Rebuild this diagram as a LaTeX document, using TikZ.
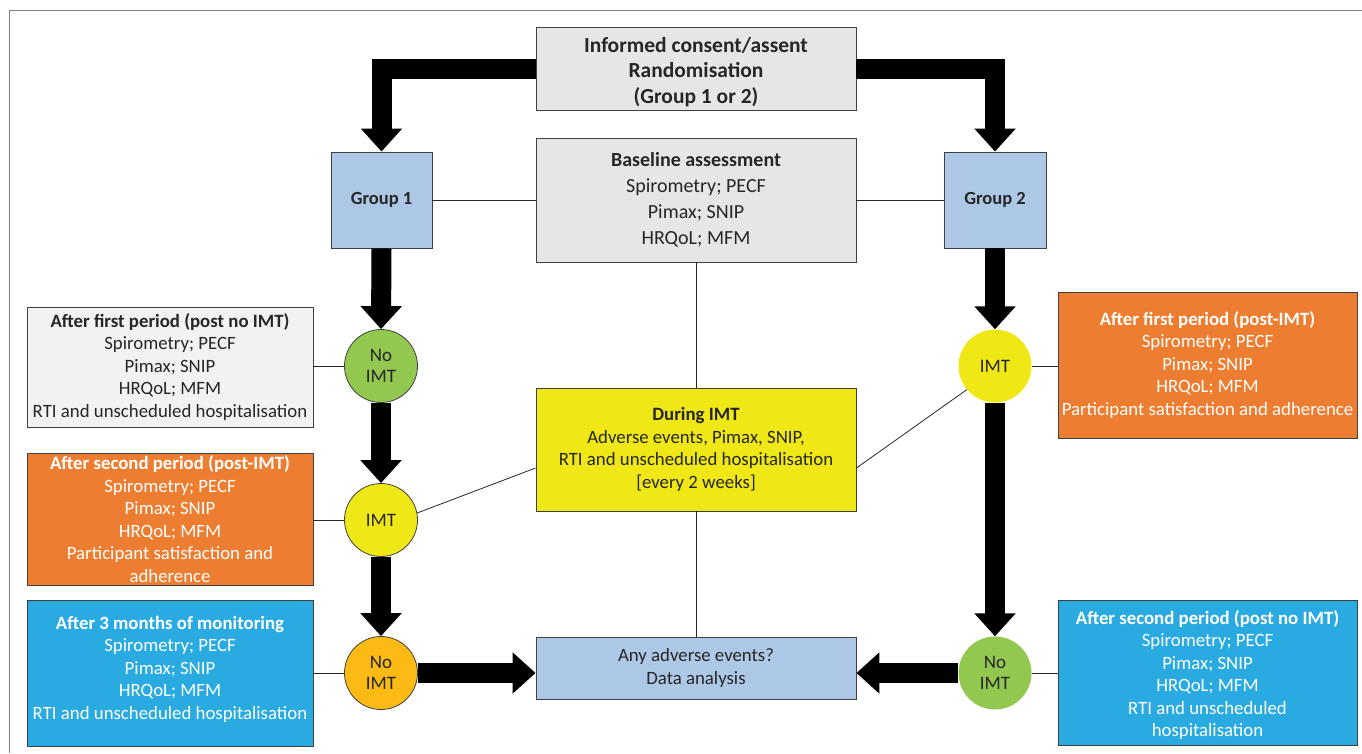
\documentclass[tikz,border=0pt]{standalone}
\usepackage{fontspec}
\setmainfont{Carlito}
\usetikzlibrary{arrows.meta,calc}
\definecolor{boxgray}{HTML}{E6E6E6}
\definecolor{boxwhite}{HTML}{F2F2F2}
\definecolor{borderc}{HTML}{404040}
\definecolor{orangec}{HTML}{ED7D31}
\definecolor{bluec}{HTML}{29ABE2}
\definecolor{lblue}{HTML}{ADC8E6}
\definecolor{yellowc}{HTML}{F0E816}
\definecolor{greenc}{HTML}{92C850}
\definecolor{amberc}{HTML}{FBBA14}
\definecolor{txt}{HTML}{262626}
\tikzset{
  sidefont/.style={font=\fontsize{18.8}{22.5}\selectfont},
  box/.style={draw=borderc, line width=0.9pt, inner sep=0pt, align=center, text=txt, sidefont},
  sidebox/.style={box, minimum width=286pt},
  textonly/.style={inner sep=0pt, align=center, sidefont},
  circ/.style={circle, minimum size=73pt, inner sep=0pt, align=center, text=txt, font=\fontsize{19}{21}\selectfont},
  bigarrow/.style={line width=20pt, line join=miter, -{Triangle[length=23pt,width=40pt]}, black},
  thin/.style={draw=txt, line width=0.8pt},
}
\begin{document}
\begin{tikzpicture}[x=1pt,y=-1pt]
\useasboundingbox (0,0) rectangle (1362,753);
\draw[gray, line width=0.8pt] (9,753) -- (9,10) -- (1362,10);

% central column
\node[box, fill=boxgray, minimum width=320pt, minimum height=83pt] (top) at (696,68.5) {};
\node[textonly, text=txt, font=\bfseries\fontsize{21.5}{25.5}\selectfont] (toptext) at (696,72)
  {Informed consent/assent\\Randomisation\\(Group 1 or 2)};
\node[box, fill=boxgray, minimum width=320pt, minimum height=124pt, font=\fontsize{20}{26}\selectfont] (base) at (696,200)
  {\textbf{Baseline assessment}\\Spirometry; PECF\\Pimax; SNIP\\HRQoL; MFM};
\node[box, fill=yellowc, minimum width=320pt, minimum height=123pt] (yel) at (696,449.5)
  {\textbf{During IMT}\\Adverse events, Pimax, SNIP,\\RTI and unscheduled hospitalisation\\{[}every 2 weeks{]}};
\node[box, fill=lblue, minimum width=320pt, minimum height=62pt] (data) at (696,668)
  {Any adverse events?\\Data analysis};

% groups
\node[box, fill=lblue, minimum width=101pt, minimum height=96pt, font=\bfseries\fontsize{18.5}{22}\selectfont] (g1) at (381.5,200) {Group 1};
\node[box, fill=lblue, minimum width=102pt, minimum height=96pt, font=\bfseries\fontsize{18.5}{22}\selectfont] (g2) at (995,200) {Group 2};

% circles
\node[circ, draw=borderc, line width=0.8pt, fill=greenc] (c1) at (381,366) {No\\IMT};
\node[circ, draw=borderc, line width=0.8pt, fill=yellowc] (c2) at (381,520) {IMT};
\node[circ, draw=borderc, line width=0.8pt, fill=amberc] (c3) at (381,673) {No\\IMT};
\node[circ, fill=yellowc] (c4) at (995,366) {IMT};
\node[circ, fill=greenc] (c5) at (995,673) {No\\IMT};

% side boxes
\node[sidebox, fill=boxwhite, minimum height=120pt] (l1) at (170,367)
  {\textbf{After first period (post no IMT)}\\Spirometry; PECF\\Pimax; SNIP\\HRQoL; MFM\\RTI and unscheduled hospitalisation};
\node[sidebox, fill=orangec, text=white, minimum height=132pt] (l2) at (170,519)
  {\textbf{After second period (post-IMT)}\\Spirometry; PECF\\Pimax; SNIP\\HRQoL; MFM\\Participant satisfaction and\\adherence};
\node[sidebox, fill=bluec, minimum height=146pt] (l3) at (170,673) {};
\node[textonly, text=white] (l3text) at (170,669)
  {\textbf{After 3 months of monitoring}\\Spirometry; PECF\\Pimax; SNIP\\HRQoL; MFM\\RTI and unscheduled hospitalisation};
\node[sidebox, fill=orangec, text=white, minimum width=299pt, minimum height=146pt] (r1) at (1207.5,365)
  {\textbf{After first period (post-IMT)}\\Spirometry; PECF\\Pimax; SNIP\\HRQoL; MFM\\Participant satisfaction and adherence};
\node[sidebox, fill=bluec, minimum width=299pt, minimum height=145pt] (r2) at (1207.5,672.5) {};
\node[textonly, text=white] (r2text) at (1207.5,675)
  {\textbf{After second period (post no IMT)}\\Spirometry; PECF\\Pimax; SNIP\\HRQoL; MFM\\RTI and unscheduled\\hospitalisation};

% thin connectors
\draw[thin] (g1.east) -- (base.west);
\draw[thin] (base.east) -- (g2.west);
\draw[thin] (base.south) -- (yel.north);
\draw[thin] (yel.south) -- (data.north);
\draw[thin] (c1.west -| l1.east) -- (c1.west);
\draw[thin] (c2.west -| l2.east) -- (c2.west);
\draw[thin] (c3.west -| l3.east) -- (c3.west);
\draw[thin] (c4.east) -- (c4.east -| r1.west);
\draw[thin] (c5.east) -- (c5.east -| r2.west);
\draw[thin] (c2.11) -- ([yshift=-18.5pt]yel.west);
\draw[thin] ([yshift=-18.5pt]yel.east) -- (c4.220);

% thick arrows
\draw[bigarrow] (top.west) -| (g1.north);
\draw[bigarrow] (top.east) -| (g2.north);
\draw[bigarrow] (g1.south) -- (c1.north);
\draw[bigarrow] (c1.south) -- (c2.north);
\draw[bigarrow] (c2.south) -- (c3.north);
\draw[bigarrow] (c3.east) -- (c3.east -| data.west);
\draw[bigarrow] (g2.south) -- (c4.north);
\draw[bigarrow] (c4.south) -- (c5.north);
\draw[bigarrow] (c5.west) -- (c5.west -| data.east);
\end{tikzpicture}
\end{document}
